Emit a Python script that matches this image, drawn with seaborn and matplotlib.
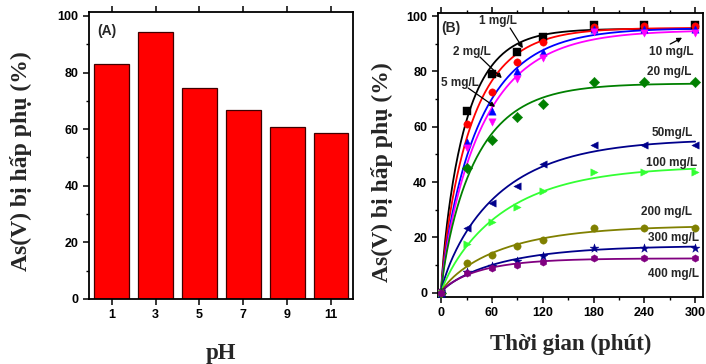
import numpy as np
import pandas as pd
import matplotlib
matplotlib.use("Agg")
import matplotlib.pyplot as plt
import seaborn as sns

# ---------------- data ----------------
ph_labels = ["1", "3", "5", "7", "9", "11"]
ph_removal = [83.1, 94.2, 74.4, 66.8, 60.7, 58.8]

times = [0, 30, 60, 90, 120, 180, 240, 300]
conc_labels = ["1 mg/L", "2 mg/L", "5 mg/L", "10 mg/L", "20 mg/L",
               "50mg/L", "100 mg/L", "200 mg/L", "300 mg/L", "400 mg/L"]
s1 = [0, 65.7, 79.0, 86.9, 92.3, 96.7, 96.7, 96.7]
s2 = [0, 60.9, 72.6, 83.3, 90.8, 96.1, 96.6, 96.6]
s5 = [0, 54.4, 65.7, 80.0, 86.9, 95.5, 95.2, 95.2]
s10 = [0, 52.4, 61.8, 77.1, 84.7, 94.1, 94.0, 94.0]
s20 = [0, 45.2, 55.1, 63.6, 68.1, 76.3, 76.3, 76.3]
s50 = [0, 23.5, 32.5, 38.7, 46.6, 53.4, 53.4, 53.4]
s100 = [0, 17.5, 25.7, 31.1, 36.8, 43.5, 43.7, 43.7]
s200 = [0, 10.6, 13.6, 16.9, 19.2, 23.3, 23.3, 23.3]
s300 = [0, 7.6, 9.8, 11.6, 13.4, 16.3, 16.3, 16.3]
s400 = [0, 7.0, 8.8, 10.0, 11.2, 12.4, 12.4, 12.4]
series = [s1, s2, s5, s10, s20, s50, s100, s200, s300, s400]

colors = ["#000000", "#ff0000", "#0000ff", "#ff00ff", "#008000",
          "#00008b", "#33ff33", "#808000", "#00008b", "#800080"]
markers = ["s", "o", "^", "v", "D", "<", ">", "o", "*", "h"]

# ---------------- style ----------------
sns.set_theme(style="ticks")
plt.rcParams["font.family"] = ["Liberation Sans", "DejaVu Sans"]
plt.rcParams["font.weight"] = "bold"

fig = plt.figure(figsize=(7.06, 3.64), dpi=100)
axA = fig.add_axes([0.126, 0.179, 0.374, 0.788])
axB = fig.add_axes([0.620, 0.185, 0.376, 0.779])

ann_font = dict(fontsize=8.5, fontweight="bold", family=["Liberation Sans", "DejaVu Sans"])
panel_font = dict(fontsize=10, fontweight="bold", family=["Liberation Sans", "DejaVu Sans"])
ylabel_font = dict(fontsize=17, fontweight="bold", family=["Liberation Serif", "DejaVu Serif"])
xlabel_font = dict(fontsize=16.5, fontweight="bold", family=["Liberation Serif", "DejaVu Serif"])

# ---------------- panel A ----------------
dfA = pd.DataFrame({"pH": ph_labels, "removal": ph_removal})
sns.barplot(data=dfA, x="pH", y="removal", ax=axA, color="#ff0000",
            saturation=1, width=0.79, edgecolor="#400000", linewidth=0.9)
axA.set_xlim(-0.52, 5.5)
axA.set_ylim(0, 101.4)
axA.set_yticks([0, 20, 40, 60, 80, 100])
axA.set_yticks(np.arange(10, 100, 20), minor=True)
axA.set_xlabel("pH", **xlabel_font)
axA.set_ylabel("As(V) bị hấp phụ (%)", **ylabel_font)
axA.yaxis.set_label_coords(-0.215, 0.48)
axA.xaxis.set_label_coords(0.5, -0.153)
axA.text(0.068, 0.934, "(A)", transform=axA.transAxes, ha="center", va="center", **panel_font)

# ---------------- panel B ----------------
rows = []
for lab, ys in zip(conc_labels, series):
    for t, y in zip(times, ys):
        rows.append({"t": t, "y": y, "conc": lab})
dfB = pd.DataFrame(rows)

tt = np.linspace(0, 300, 301)
fit_rows = []
for lab, ys in zip(conc_labels, series):
    t_arr = np.array(times, float)
    y_arr = np.array(ys, float)
    best = None
    for k in np.logspace(-3, -0.7, 120):
        for n in np.linspace(0.8, 3.5, 60):
            b = (1 - np.exp(-k * t_arr)) ** n
            A = (b @ y_arr) / (b @ b)
            err = np.sum((A * b - y_arr) ** 2)
            if best is None or err < best[0]:
                best = (err, A, k, n)
    _, A, k, n = best
    for t, v in zip(tt, A * (1 - np.exp(-k * tt)) ** n):
        fit_rows.append({"t": t, "y": v, "conc": lab})
dfFit = pd.DataFrame(fit_rows)

palette = dict(zip(conc_labels, colors))
sns.lineplot(data=dfFit, x="t", y="y", hue="conc", hue_order=conc_labels,
             palette=palette, ax=axB, legend=False, linewidth=1.3)
for lab, m in zip(conc_labels, markers):
    sub = dfB[dfB["conc"] == lab]
    ms = 45 if m == "*" else 28
    sns.scatterplot(data=sub, x="t", y="y", color=palette[lab], marker=m,
                    s=ms, ax=axB, legend=False, edgecolor=palette[lab],
                    linewidth=0.3, zorder=3)

axB.set_xlim(-4, 309.5)
axB.set_ylim(-1.45, 101.1)
axB.set_xticks([0, 60, 120, 180, 240, 300])
axB.set_xticks([30, 90, 150, 210, 270], minor=True)
axB.set_yticks([0, 20, 40, 60, 80, 100])
axB.set_yticks(np.arange(10, 100, 20), minor=True)
axB.set_xlabel("Thời gian (phút)", **xlabel_font)
axB.set_ylabel("As(V) bị hấp phụ (%)", **ylabel_font)
axB.yaxis.set_label_coords(-0.168, 0.44)
axB.xaxis.set_label_coords(0.5, -0.131)
axB.text(0.05, 0.947, "(B)", transform=axB.transAxes, ha="center", va="center", **panel_font)

# labels
lab_pos = {"1 mg/L": (66.7, 98.3), "2 mg/L": (36, 87.1), "5 mg/L": (22.4, 75.9),
           "10 mg/L": (271.6, 86.9), "20 mg/L": (269, 79.9), "50mg/L": (273, 57.6),
           "100 mg/L": (271.6, 46.8), "200 mg/L": (265.7, 29.0),
           "300 mg/L": (275, 19.7), "400 mg/L": (275, 6.6)}
for lab, (x, y) in lab_pos.items():
    axB.text(x, y, lab, ha="center", va="center", **ann_font)
arrows = [((81.5, 95.7), (96.5, 88.4)), ((46, 85.2), (71.7, 77.6)),
          ((31.9, 74.0), (63.8, 67.2)), ((270.5, 89.9), (284.6, 92.2))]
for (x0, y0), (x1, y1) in arrows:
    axB.annotate("", xy=(x1, y1), xytext=(x0, y0),
                 arrowprops=dict(arrowstyle="-|>", color="black", lw=0.9,
                                 mutation_scale=7, shrinkA=0, shrinkB=0))

for ax in (axA, axB):
    for sp in ax.spines.values():
        sp.set_visible(True)
        sp.set_linewidth(1.3)
        sp.set_color("black")
    ax.tick_params(axis="both", which="major", direction="out", length=4, width=1.1,
                   colors="black", top=False, right=False)
    ax.tick_params(axis="both", which="minor", direction="out", length=2.5, width=1.0,
                   colors="black")
    ax.tick_params(axis="x", which="both", top=True, labeltop=False)
    for lbl in ax.get_xticklabels() + ax.get_yticklabels():
        lbl.set_fontsize(9)
        lbl.set_fontweight("bold")
        lbl.set_family(["Liberation Sans", "DejaVu Sans"])

fig.savefig("out.png", dpi=100, facecolor="white")
